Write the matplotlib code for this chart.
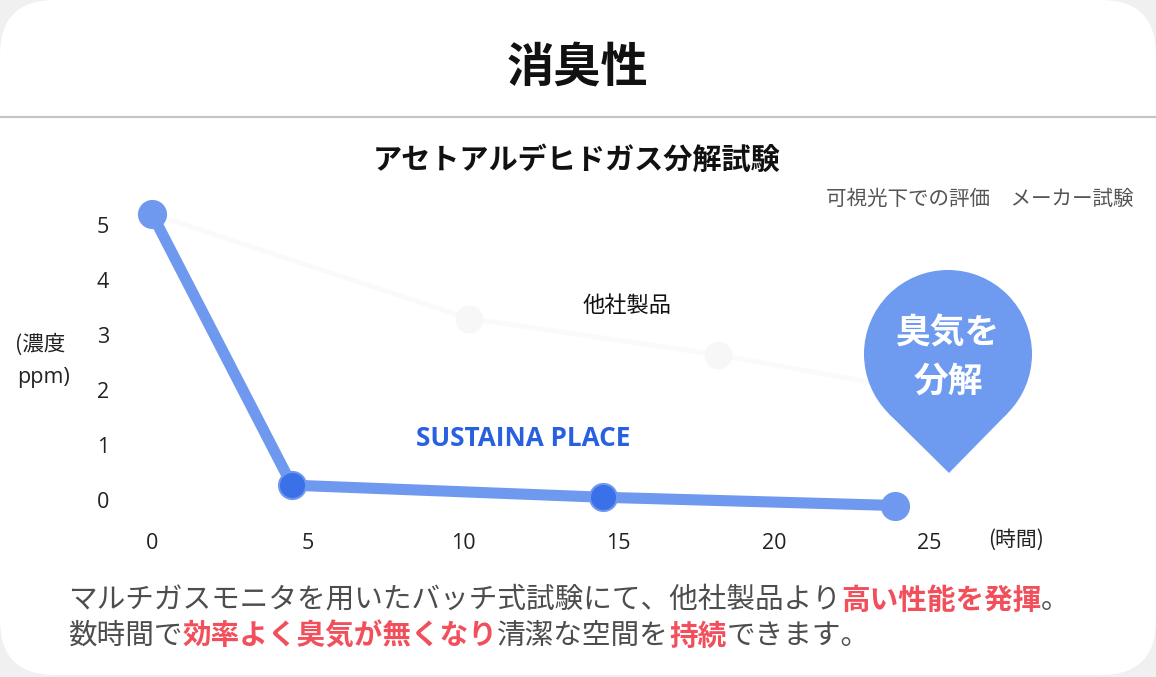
import numpy as np
import matplotlib
matplotlib.use('Agg')
import matplotlib.pyplot as plt
from matplotlib.patches import FancyBboxPatch, Circle, Polygon

plt.rcParams['font.family'] = ['Noto Sans CJK JP', 'DejaVu Sans']

# data
hours_ours = [0, 4.5, 14.5, 23.9]
ppm_ours = [5.2, 0.27, 0.05, -0.1]
hours_other = [0, 10.2, 18.2, 24.0]
ppm_other = [5.2, 3.3, 2.64, 2.05]
x_ticks = [0, 5, 10, 15, 20, 25]
y_ticks = [0, 1, 2, 3, 4, 5]

W, H = 1156, 677
fig = plt.figure(figsize=(W / 100, H / 100), dpi=100, facecolor='#f0f0f0')

# background card, header
bg = fig.add_axes([0, 0, 1, 1], zorder=0)
bg.set_xlim(0, W)
bg.set_ylim(H, 0)
bg.axis('off')
bg.add_patch(FancyBboxPatch((0, 0), W, 675, boxstyle='round,pad=0,rounding_size=55',
                            fc='white', ec='none'))
bg.plot([0, W], [117, 117], color='#c4c4c4', lw=1.6)
bg.text(578, 68, '消臭性', ha='center', va='center', fontsize=34, fontweight='bold', color='#111111')
bg.text(577, 160, 'アセトアルデヒドガス分解試験', ha='center', va='center', fontsize=21,
        fontweight='bold', color='#111111')
bg.text(1133, 199, '可視光下での評価　メーカー試験', ha='right', va='center', fontsize=14.8,
        color='#555555')

# chart axes
x0, sx, y0, sy = 152, 31.1, 500, 55
xlim = (-1.2, 28)
ylim = (-0.5, 5.7)
left = x0 + sx * xlim[0]
right = x0 + sx * xlim[1]
bottom = y0 - sy * ylim[0]
top = y0 - sy * ylim[1]
ax = fig.add_axes([left / W, (H - bottom) / H, (right - left) / W, (bottom - top) / H], zorder=1)
ax.set_facecolor('none')
ax.set_xlim(*xlim)
ax.set_ylim(*ylim)
for s in ax.spines.values():
    s.set_visible(False)
ax.set_xticks(x_ticks)
ax.set_yticks(y_ticks)
ax.tick_params(length=0, pad=4, labelsize=15.5, labelcolor='#222222')
for lab in ax.get_xticklabels() + ax.get_yticklabels():
    lab.set_fontfamily('Open Sans')

ax.plot(hours_other, ppm_other, color='#fafafa', lw=3.5, marker='o', ms=20,
        mfc='#f7f7f7', mec='none', zorder=1)
ax.plot(hours_ours, ppm_ours, color='#6f99ee', lw=8, marker='o', ms=21,
        mfc='#6f99ee', mec='none', solid_capstyle='round', zorder=2)
ax.plot(hours_ours[1:3], ppm_ours[1:3], ls='none', marker='o', ms=18,
        mfc='#3a70e8', mec='none', zorder=3)

# overlay: labels and pin
fg = fig.add_axes([0, 0, 1, 1], zorder=2)
fg.set_xlim(0, W)
fg.set_ylim(H, 0)
fg.axis('off')
fg.patch.set_alpha(0)

fg.text(583, 305, '他社製品', ha='left', va='center', fontsize=16, color='#111111')
fg.text(523, 438, 'SUSTAINA PLACE', ha='center', va='center', fontsize=18.8,
        fontweight='bold', color='#2860e0', family='Open Sans')
fg.text(1016, 540, '(時間)', ha='center', va='center', fontsize=15, color='#222222')
fg.text(15, 345, '(濃度', ha='left', va='center', fontsize=15.5, color='#222222')
fg.text(17, 378, 'ppm)', ha='left', va='center', fontsize=15.5, color='#222222',
        family='Open Sans')

cx, cy, r = 948, 354, 84
tip = (949, 473)
d = np.hypot(tip[0] - cx, tip[1] - cy)
a = np.arccos(r / d)
pin_col = '#6e9bef'
fg.add_patch(Circle((cx, cy), r, fc=pin_col, ec='none'))
fg.add_patch(Polygon([(cx - r * np.sin(a), cy + r * np.cos(a)),
                      (cx + r * np.sin(a), cy + r * np.cos(a)), tip],
                     closed=True, fc=pin_col, ec='none'))
fg.text(cx, 333, '臭気を', ha='center', va='center', fontsize=25, fontweight='bold', color='white')
fg.text(cx, 381, '分解', ha='center', va='center', fontsize=25, fontweight='bold', color='white')

# description lines with highlighted words
gray, red = '#4d4d4d', '#f24f5c'
lines = [
    (600, [('マルチガスモニタを用いたバッチ式試験にて、他社製品より', gray, 'normal'),
           ('高い性能を発揮', red, 'bold'),
           ('。', gray, 'normal')]),
    (636, [('数時間で', gray, 'normal'),
           ('効率よく臭気が無くなり', red, 'bold'),
           ('清潔な空間を', gray, 'normal'),
           ('持続', red, 'bold'),
           ('できます。', gray, 'normal')]),
]
renderer = fig.canvas.get_renderer()
for y, parts in lines:
    x = 68
    for txt, col, wt in parts:
        t = fg.text(x, y, txt, ha='left', va='center', fontsize=20.6, color=col, fontweight=wt)
        x += t.get_window_extent(renderer).width

fig.savefig('out.png', dpi=100, facecolor=fig.get_facecolor())
